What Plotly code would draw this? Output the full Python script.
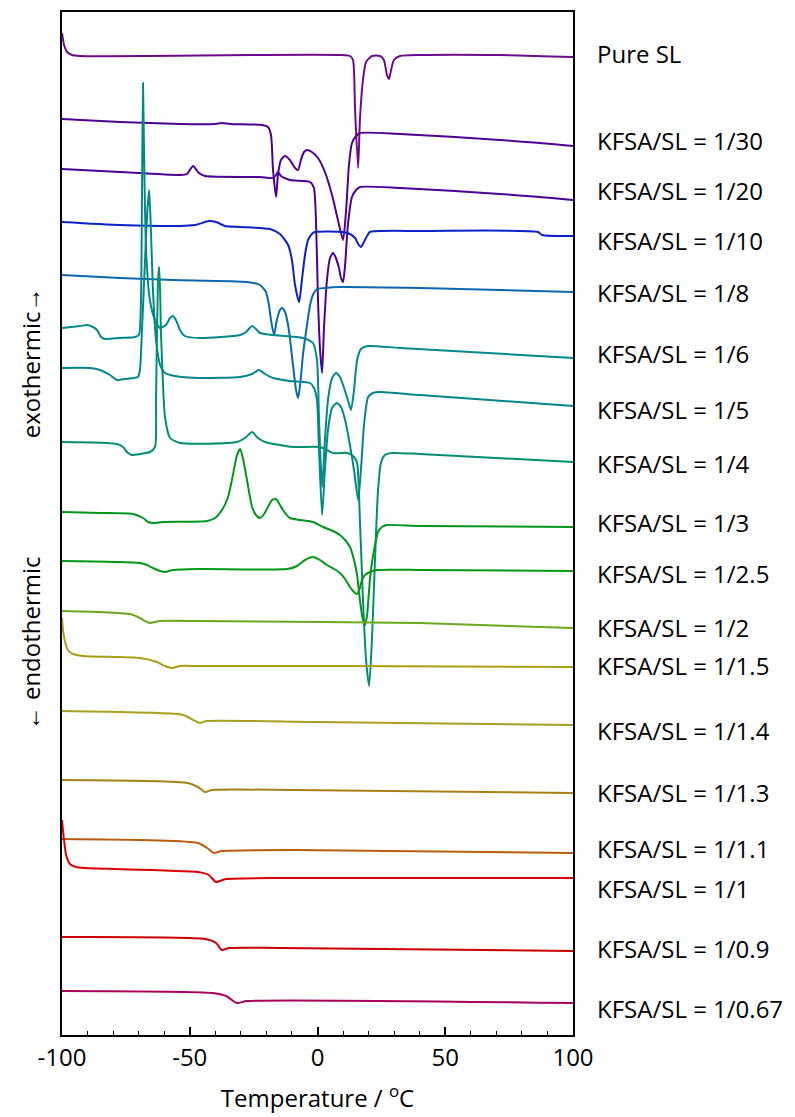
import plotly.graph_objects as go

# ---- data: temperature (degC) and heat flow (arbitrary units, offset per curve) ----
labels = ["Pure SL", "KFSA/SL = 1/30", "KFSA/SL = 1/20", "KFSA/SL = 1/10", "KFSA/SL = 1/8",
          "KFSA/SL = 1/6", "KFSA/SL = 1/5", "KFSA/SL = 1/4", "KFSA/SL = 1/3", "KFSA/SL = 1/2.5",
          "KFSA/SL = 1/2", "KFSA/SL = 1/1.5", "KFSA/SL = 1/1.4", "KFSA/SL = 1/1.3", "KFSA/SL = 1/1.1",
          "KFSA/SL = 1/1", "KFSA/SL = 1/0.9", "KFSA/SL = 1/0.67"]

colors = ["#6e0a8c", "#50008f", "#4c0096", "#0a22c8", "#0a68ae", "#008a8a", "#00878a", "#00906e",
          "#00961e", "#009a14", "#6aa81c", "#a8a012", "#a8a020", "#a88014", "#b85c10", "#dd0000",
          "#cc0000", "#a8005a"]

T_sl = [-100, -99.2, -98.0, -96.1, -93.0, -65.6, -26.4, 8.8, 12.7, 13.9, 14.7, 15.9, 16.6, 17.8, 19.0,
        21.3, 24.5, 26.0, 27.2, 28.0, 28.8, 29.9, 32.3, 40.1, 71.4, 100]
H_sl = [1002, 990, 983, 980, 979, 979, 980, 980, 979, 975, 925, 867, 915, 955, 973,
        979, 979, 975, 960, 956, 965, 975, 979, 980, 980, 978]

T_30 = [-100, -77.3, -53.8, -40.1, -37.4, -34.2, -21.7, -19.4, -18.2, -17.4, -16.2, -15.5, -14.3, -12.7,
        -10.8, -8.8, -7.6, -6.5, -5.3, -4.1, -2.2, 0.2, 2.9, 5.7, 8.0, 10.0, 11.2, 12.3, 13.5, 15.1,
        16.6, 32.3, 71.4, 100]
H_30 = [916, 913, 911, 911, 912, 911, 910, 908, 900, 865, 838, 860, 875, 879,
        875, 867, 865, 875, 883, 885, 883, 877, 863, 840, 815, 795, 825, 870, 892, 899,
        902, 901, 895, 889]

T_20 = [-100, -77.3, -53.8, -51.1, -48.7, -46.4, -44.0, -22.5, -17.4, -16.2, -15.5, -14.3, -10.8, -2.9,
        -1.4, -0.6, 0.2, 1.0, 1.8, 2.5, 3.7, 4.9, 6.1, 7.2, 8.4, 9.2, 10.0, 10.8, 11.9, 13.5, 15.1,
        16.6, 32.3, 71.4, 100]
H_20 = [866, 863, 860, 861, 869, 862, 859, 858, 857, 860, 863, 859, 855, 853,
        847, 815, 735, 685, 662, 705, 755, 777, 782, 777, 767, 757, 753, 770, 810, 838, 845,
        848, 847, 841, 835]

T_10 = [-100, -77.3, -53.8, -47.9, -42.5, -39.7, -36.2, -30.3, -18.6, -14.7, -11.5, -10.0, -8.8, -7.2,
        -6.1, -4.9, -3.7, -2.2, -1.0, 10.0, 12.7, 14.7, 15.9, 17.0, 18.2, 19.4, 20.5, 40.1, 86.3, 87.9, 100]
H_10 = [813, 810, 809, 810, 814, 813, 809, 808, 806, 801, 790, 775, 750, 733,
        755, 780, 795, 801, 803, 803, 801, 797, 791, 788, 793, 799, 803, 804, 803, 800, 799]

T_8 = [-100, -77.3, -56.6, -27.6, -22.5, -20.2, -19.0, -18.2, -17.0, -15.9, -14.7, -13.9, -12.7, -11.2,
       -9.6, -8.4, -7.6, -6.8, -5.7, -4.1, -2.9, -1.8, -0.2, 2.9, 8.8, 40.1, 100]
H_8 = [760, 757, 755, 753, 750, 743, 730, 715, 700, 715, 725, 727, 723, 705,
       670, 645, 637, 650, 680, 710, 730, 740, 746, 747, 748, 747, 743]

T_6 = [-100, -93.0, -90.2, -87.9, -86.3, -84.7, -83.2, -77.3, -71.4, -69.9, -69.1, -68.7, -68.3, -67.9,
       -67.1, -65.6, -63.6, -61.6, -59.3, -57.7, -56.6, -55.4, -53.8, -51.9, -46.0, -30.3, -28.0, -25.6,
       -24.1, -22.5, -17.4, -5.7, -1.8, -0.2, 0.6, 1.8, 2.9, 4.1, 5.7, 7.2, 8.8, 10.4, 11.9, 13.1, 14.3,
       15.5, 17.0, 19.8, 32.3, 100]
H_6 = [707, 709, 710, 708, 705, 698, 696, 697, 698, 700, 735, 835, 952, 885,
       785, 735, 715, 707, 710, 717, 719, 715, 705, 699, 697, 700, 703, 709,
       706, 702, 700, 697, 692, 675, 615, 548, 595, 635, 657, 662, 658, 647, 635, 625, 645,
       675, 686, 689, 687, 677]

T_5 = [-100, -89.0, -85.1, -81.2, -78.5, -75.3, -70.3, -69.5, -68.7, -67.5, -66.7, -65.9, -65.2, -64.4,
       -63.2, -61.6, -59.7, -55.8, -46.0, -30.3, -25.6, -22.9, -20.5, -17.4, -10.8, -2.9, -1.4, -0.2,
       0.6, 1.8, 2.9, 4.1, 5.7, 7.6, 9.2, 10.8, 12.7, 14.3, 15.9, 17.0, 18.2, 19.8, 21.7, 23.7, 40.1, 100]
H_5 = [667, 667, 665, 660, 655, 656, 658, 665, 705, 775, 820, 845, 805, 745,
       695, 670, 662, 659, 657, 658, 661, 665, 661, 657, 654, 652, 647, 635,
       585, 520, 565, 605, 627, 632, 628, 615, 590, 565, 535, 565, 610, 638, 642, 643, 640, 629]

T_4 = [-100, -78.5, -76.1, -74.6, -72.6, -69.5, -65.6, -63.6, -63.2, -62.8, -62.4, -62.0, -61.6, -61.3,
       -60.9, -59.7, -57.7, -53.8, -31.5, -28.4, -25.6, -23.3, -20.5, -9.6, 1.0, 6.1, 11.9, 14.3, 15.5,
       16.6, 17.8, 19.0, 20.2, 21.3, 22.5, 23.7, 24.9, 26.4, 29.2, 40.1, 100]
H_4 = [593, 591, 588, 583, 580, 581, 583, 588, 635, 705, 755, 768, 745, 705,
       678, 618, 597, 592, 593, 597, 603, 597, 593, 588, 588, 582, 582, 578, 572,
       515, 435, 375, 349, 395, 475, 545, 573, 580, 582, 581, 573]

T_3 = [-100, -85.1, -72.2, -68.3, -66.3, -64.4, -60.5, -43.2, -40.1, -37.4, -35.0, -33.1, -31.5, -30.3,
       -29.2, -27.6, -25.6, -24.1, -22.5, -20.9, -19.4, -17.8, -16.2, -14.7, -12.7, -10.8, -6.8, -1.8,
       2.2, 6.1, 8.8, 10.8, 12.7, 14.3, 15.5, 16.6, 17.8, 18.6, 19.4, 20.5, 21.3, 22.5, 23.7, 25.2,
       27.2, 40.1, 100]
H_3 = [523, 522, 521, 517, 513, 512, 513, 514, 517, 525, 538, 560, 580, 586,
       577, 555, 528, 520, 517, 521, 528, 535, 536, 530, 522, 517, 515, 513,
       508, 504, 500, 495, 488, 475, 460, 435, 415, 410, 420, 455, 472, 490, 503, 508,
       510, 509, 508]

T_25 = [-100, -69.5, -66.7, -64.4, -61.6, -59.7, -56.6, -46.0, -11.9, -8.0, -4.9, -1.8, 1.0, 3.7,
        6.5, 8.8, 10.8, 12.7, 14.3, 15.5, 16.6, 17.4, 18.6, 20.5, 23.3, 40.1, 100]
H_25 = [474, 472, 470, 467, 464, 463, 465, 466, 466, 469, 475, 478, 475, 470,
        466, 462, 456, 448, 443, 441, 447, 455, 460, 463, 465, 465, 464]

T_2 = [-100, -85.1, -73.4, -69.5, -67.5, -65.6, -63.6, -61.6, -46.0, 1.0, 40.1, 100]
H_2 = [424, 423, 421, 417, 414, 412, 413, 414, 414, 413, 412, 407]

T_15 = [-100, -99.6, -98.8, -97.7, -95.7, -91.8, -69.5, -62.8, -59.7, -56.9, -53.8, -46.0, 8.8, 100]
H_15 = [417, 405, 393, 385, 381, 379, 377, 373, 369, 367, 369, 369, 369, 368]

T_14 = [-100, -54.6, -51.5, -48.7, -46.0, -43.6, -1.0, 100]
H_14 = [324, 321, 319, 315, 312, 314, 313, 310]

T_13 = [-100, -50.7, -46.8, -44.0, -41.3, -8.8, 100]
H_13 = [255, 252, 248, 243, 245, 245, 242]

T_11 = [-100, -46.8, -43.2, -40.5, -37.4, -8.8, 100]
H_11 = [196, 192, 187, 182, 184, 185, 182]

T_1 = [-100, -99.2, -98.4, -96.9, -94.5, -91.0, -46.8, -42.5, -39.7, -35.8, -14.3, 100]
H_1 = [215, 195, 180, 171, 168, 167, 163, 160, 153, 156, 157, 157]

T_09 = [-100, -44.0, -39.7, -37.4, -34.6, -14.3, 100]
H_09 = [98, 96, 92, 85, 87, 87, 84]

T_067 = [-100, -41.3, -35.8, -31.5, -27.6, 100]
H_067 = [44, 42, 39, 32, 34, 32]

series_T = [T_sl, T_30, T_20, T_10, T_8, T_6, T_5, T_4, T_3, T_25, T_2, T_15, T_14, T_13, T_11, T_1, T_09, T_067]
series_H = [H_sl, H_30, H_20, H_10, H_8, H_6, H_5, H_4, H_3, H_25, H_2, H_15, H_14, H_13, H_11, H_1, H_09, H_067]

# label vertical positions (in heat-flow units)
label_pos = [982, 895, 845, 795, 743, 682, 626, 572, 513, 462, 408, 370, 305, 243, 187, 147, 87, 27]

FONT = "Open Sans"
FS = 24

fig = go.Figure()
for T, H, c, name in zip(series_T, series_H, colors, labels):
    fig.add_trace(go.Scatter(x=T, y=H, mode="lines", name=name,
                             line=dict(color=c, width=2, shape="spline", smoothing=0.6),
                             showlegend=False))

for name, yp in zip(labels, label_pos):
    fig.add_annotation(x=1.043, xref="paper", y=yp, yref="y", text=name, showarrow=False,
                       xanchor="left", yanchor="middle",
                       font=dict(family=FONT, size=FS, color="black"))

# vertical axis caption (two parts)
fig.add_annotation(x=-0.062, xref="paper", y=672, yref="y", text="exothermic\u2192",
                   textangle=-90, showarrow=False, xanchor="center", yanchor="middle",
                   font=dict(family=FONT, size=FS, color="black"))
fig.add_annotation(x=-0.062, xref="paper", y=392, yref="y", text="\u2190 endothermic",
                   textangle=-90, showarrow=False, xanchor="center", yanchor="middle",
                   font=dict(family=FONT, size=FS, color="black"))

fig.update_layout(
    width=795, height=1117,
    margin=dict(l=62, r=222, t=12, b=82),
    paper_bgcolor="white", plot_bgcolor="white",
    font=dict(family=FONT, size=FS, color="black"),
    xaxis=dict(range=[-100, 100], tickvals=[-100, -50, 0, 50, 100],
               ticktext=["-100", "-50", "0", "50", "100"],
               ticks="inside", ticklen=8, tickwidth=1.5, tickcolor="black",
               minor=dict(dtick=10, ticks="inside", ticklen=4, tickwidth=1, tickcolor="black"),
               showline=True, linecolor="black", linewidth=2, mirror=True,
               showgrid=False, zeroline=False, automargin=False,
               tickfont=dict(family=FONT, size=FS),
               title=dict(text="Temperature / <sup>o</sup>C", font=dict(family=FONT, size=FS), standoff=18)),
    yaxis=dict(range=[0, 1023], showticklabels=False, ticks="",
               showline=True, linecolor="black", linewidth=2, mirror=True,
               showgrid=False, zeroline=False, automargin=False),
)

fig.write_html("out.html")
